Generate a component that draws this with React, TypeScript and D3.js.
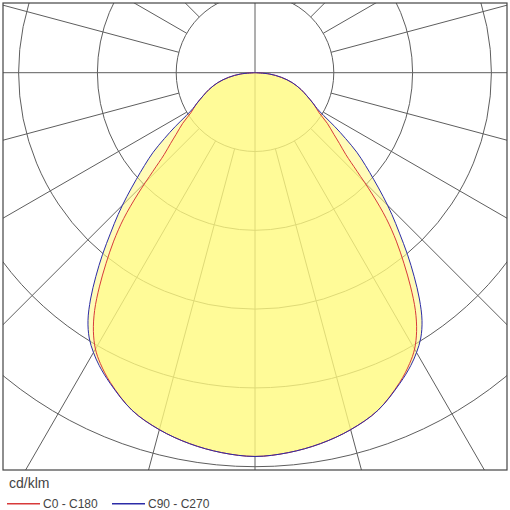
import React from "react";
import * as d3 from "d3";

// luminous intensity in cd/klm, angle from nadir (deg), symmetric left/right
const c0Angles = [0, 5, 10, 15, 20, 25, 28, 30, 32, 34, 36, 38, 40, 42, 44, 46, 48, 50, 52, 55, 58, 62, 66, 70, 75, 80, 85, 90];
const c0Values = [487, 484, 478, 469, 456, 434, 418, 405, 387, 364, 336, 307, 279, 249, 214, 180, 155, 140, 127, 112, 96, 84, 72, 62, 49, 34, 18, 0];

const c90Angles = [0, 5, 10, 15, 20, 25, 28, 30, 32, 34, 36, 38, 40, 42, 44, 46, 48, 50, 52, 54, 56, 58, 60, 62, 66, 70, 75, 80, 85, 90];
const c90Values = [487, 484, 478, 469, 456, 435, 421, 410, 397, 379, 355, 328, 301, 274, 250, 226, 203, 183, 164, 142, 122, 103, 91, 84, 72, 62, 49, 34, 18, 0];

const ringValues = [100, 200, 300, 400, 500, 600];
const spokeAngles = d3.range(0, 360, 15);
const axisAngles = [0, 90, 180, 270];

const W = 510;
const H = 510;
const frame = { x: 3, y: 3, w: 504, h: 467 };
const cx = 255;
const cy = 72.7;

type Pt = { a: number; v: number };

function mirror(angles: number[], values: number[]): Pt[] {
  const right = angles.map((a, i) => ({ a, v: values[i] }));
  const left = right.slice(1).map((p) => ({ a: -p.a, v: p.v }));
  return [...left, ...right].sort((p, q) => p.a - q.a);
}

export default function App() {
  const r = d3.scaleLinear().domain([0, 100]).range([0, 78.8]);
  const toRad = (deg: number) => (deg * Math.PI) / 180;

  const line = d3
    .lineRadial<Pt>()
    .angle((d) => Math.PI - toRad(d.a))
    .radius((d) => r(d.v))
    .curve(d3.curveCatmullRom.alpha(0.5));

  const series = [
    { key: "C0 - C180", data: mirror(c0Angles, c0Values), color: "#d83a3a" },
    { key: "C90 - C270", data: mirror(c90Angles, c90Values), color: "#2c2ca8" },
  ];

  const gridColor = "#5e5e5e";

  return (
    <svg
      width={W}
      height={H}
      style={{ position: "absolute", left: 0, top: 0, background: "#fff" }}
      fontFamily="'Liberation Sans', Arial, sans-serif"
    >
      <defs>
        <clipPath id="frameClip">
          <rect x={frame.x} y={frame.y} width={frame.w} height={frame.h} />
        </clipPath>
      </defs>

      <g clipPath="url(#frameClip)">
        <g transform={`translate(${cx},${cy})`}>
          {ringValues.map((v) => (
            <circle key={v} r={r(v)} fill="none" stroke={gridColor} strokeWidth={1} />
          ))}
          {spokeAngles.map((a) => {
            const start = axisAngles.includes(a) ? 0 : r(ringValues[0]);
            const end = 800;
            const s = Math.sin(toRad(a));
            const c = Math.cos(toRad(a));
            return (
              <line
                key={a}
                x1={start * s}
                y1={start * c}
                x2={end * s}
                y2={end * c}
                stroke={gridColor}
                strokeWidth={1}
              />
            );
          })}

          {series.map((s) => (
            <path
              key={s.key + "-fill"}
              d={line(s.data) || ""}
              fill="rgb(255,250,125)"
              fillOpacity={0.55}
              stroke="none"
            />
          ))}
          {series.map((s) => (
            <path key={s.key} d={line(s.data) || ""} fill="none" stroke={s.color} strokeWidth={1} />
          ))}
        </g>
      </g>

      <rect
        x={frame.x}
        y={frame.y}
        width={frame.w}
        height={frame.h}
        fill="none"
        stroke="#444"
        strokeWidth={1.2}
      />

      <text x={9} y={488} fontSize={14} fill="#444">
        cd/klm
      </text>
      {series.map((s, i) => {
        const x0 = 7 + i * 105;
        return (
          <g key={s.key + "-legend"}>
            <rect x={x0} y={503} width={33} height={1.5} fill={s.color} />
            <text x={x0 + 36} y={508} fontSize={12} fill="#444">
              {s.key}
            </text>
          </g>
        );
      })}
    </svg>
  );
}
